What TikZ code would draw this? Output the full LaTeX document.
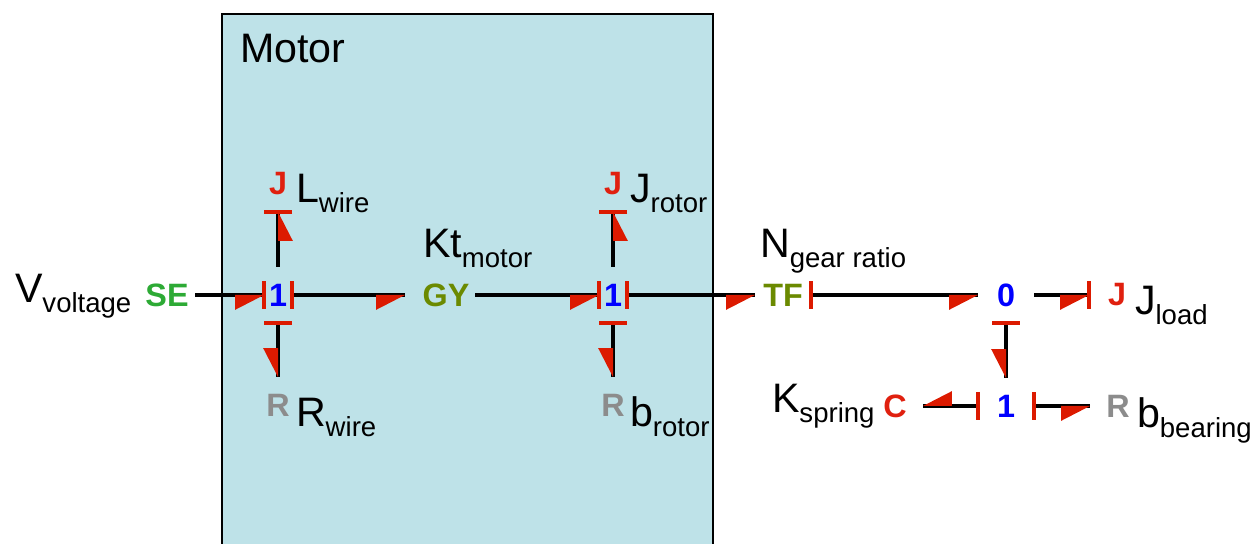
\documentclass[tikz,border=0pt]{standalone}
\usepackage{fontspec}
\setmainfont{Liberation Sans}
\usetikzlibrary{decorations.markings}

\definecolor{boxblue}{HTML}{BEE2E8}
\definecolor{tipred}{HTML}{DC1A00}
\definecolor{elemred}{HTML}{E0200F}
\definecolor{segreen}{HTML}{2DAA35}
\definecolor{olive}{HTML}{6B8A00}
\definecolor{elemgray}{HTML}{8C8C8C}

\newcommand{\biglabel}[2]{{\fontsize{29.3}{29}\selectfont #1}\raisebox{-7pt}{\fontsize{19.6}{19}\selectfont #2}}
\newcommand{\halfarrow}{\fill[tipred] (0,0) -- (-.72,0) -- (-.72,-.37) -- cycle;}
\newcommand{\strokebar}{\draw[tipred,line width=2.4pt] (0,-.35) -- (0,.35);}

\tikzset{
  bondnode/.style={minimum width=1.4cm,minimum height=1.4cm,inner sep=0,outer sep=0,font=\fontsize{23}{23}\selectfont\bfseries},
  junction/.style={bondnode,minimum width=.7cm},
  biglab/.style={anchor=base west,inner sep=0,outer sep=0},
  bondend/.style={line width=2.2pt,postaction={decorate,decoration={markings,
      mark=at position 1 with {\halfarrow\strokebar}}}},
  bondstart/.style={line width=2.2pt,postaction={decorate,decoration={markings,
      mark=at position 0 with {\strokebar},mark=at position 1 with {\halfarrow}}}}
}

\begin{document}
\begin{tikzpicture}
\useasboundingbox (0,0) rectangle (31.45,13.6);
\fill[white] (0,0) rectangle (31.45,13.6);
\draw[fill=boxblue,line width=.8pt] (5.55,-0.2) -- (5.55,13.25) -- (17.825,13.25) -- (17.825,-0.2);
\draw
    node at (6,12.025)[biglab,name=motor]{\fontsize{29.3}{29}\selectfont Motor}

    node at (4.175,6.225)[bondnode,text=segreen,name=se]{SE}
    node at (6.95,6.225)[junction,text=blue,name=ja]{1}
    node at (6.95,9)[bondnode,text=elemred,name=jwire]{J}
    node at (6.95,3.475)[bondnode,text=elemgray,name=rwire]{R}
    node at (11,6.225)[bondnode,minimum width=1.75cm,text=olive,name=gy]{\hspace*{.3cm}GY}
    node at (15.325,6.225)[junction,text=blue,name=jb]{1}
    node at (15.325,9)[bondnode,text=elemred,name=jrotor]{J}
    node at (15.325,3.475)[bondnode,text=elemgray,name=rrotor]{R}
    node at (19.575,6.225)[bondnode,text=olive,name=tf]{TF}
    node at (25.15,6.225)[bondnode,text=blue,name=zero]{0}
    node at (27.925,6.225)[bondnode,text=elemred,name=jload]{J}
    node at (25.15,3.45)[bondnode,text=blue,name=jc]{1}
    node at (22.375,3.45)[bondnode,text=elemred,name=cspring]{C}
    node at (27.95,3.45)[bondnode,text=elemgray,name=rbearing]{R}

    node at (.375,6.025)[biglab,name=vlab]{\biglabel{V}{voltage}}
    node at (7.4,8.525)[biglab,name=llab]{\biglabel{L}{wire}}
    node at (7.4,2.925)[biglab,name=rlab]{\biglabel{R}{wire}}
    node at (10.575,7.15)[biglab,name=ktlab]{\biglabel{Kt}{motor}}
    node at (15.75,8.525)[biglab,name=jrlab]{\biglabel{J}{rotor}}
    node at (15.75,2.925)[biglab,name=brlab]{\biglabel{b}{rotor}}
    node at (19,7.15)[biglab,name=nlab]{\biglabel{N}{gear ratio}}
    node at (28.375,5.725)[biglab,name=jllab]{\biglabel{J}{load}}
    node at (19.3,3.275)[biglab,name=klab]{\biglabel{K}{spring}}
    node at (28.425,2.9)[biglab,name=bblab]{\biglabel{b}{bearing}}
;

    \draw[bondend](se) -- (ja);
    \draw[bondstart](ja) -- (gy);
    \draw[bondend](ja.north) -- (jwire);
    \draw[bondstart](ja.south) -- (rwire);
    \draw[bondend](gy) -- (jb);
    \draw[bondstart](jb) -- (tf);
    \draw[bondend](jb.north) -- (jrotor);
    \draw[bondstart](jb.south) -- (rrotor);
    \draw[bondstart](tf) -- (zero);
    \draw[bondend](zero) -- (jload);
    \draw[bondstart](zero) -- (jc);
    \draw[bondstart](jc) -- (cspring);
    \draw[bondstart](jc) -- (rbearing);
\end{tikzpicture}
\end{document}
